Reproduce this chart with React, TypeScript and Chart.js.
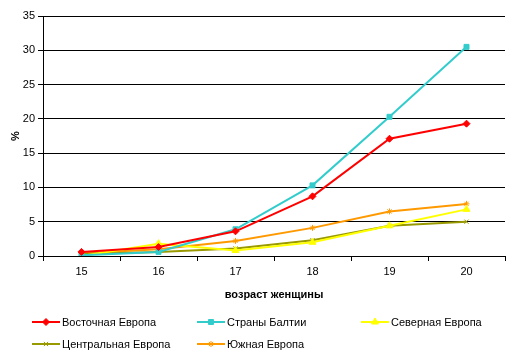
import React, { useEffect, useRef } from "react";
import { Chart, registerables } from "chart.js";
import { drawPoint } from "chart.js/helpers";

Chart.register(...registerables);

const ages = ["15", "16", "17", "18", "19", "20"];
const eastEurope = [0.6, 1.3, 3.6, 8.7, 17.1, 19.3];
const baltic = [0.1, 0.6, 3.9, 10.3, 20.3, 30.5];
const northEurope = [0.0, 1.8, 0.8, 2.0, 4.4, 6.8];
const centralEurope = [0.3, 0.6, 1.1, 2.3, 4.4, 5.0];
const southEurope = [0.4, 1.0, 2.2, 4.1, 6.5, 7.6];
const seriesNames = [
  "Восточная Европа",
  "Страны Балтии",
  "Северная Европа",
  "Центральная Европа",
  "Южная Европа",
];
const yTicks = [0, 5, 10, 15, 20, 25, 30, 35];

const FONT = "'Liberation Sans', Arial, sans-serif";

const legendPlugin = {
  id: "excelLegend",
  afterDraw(chart: any) {
    const ctx = chart.ctx;
    const cols = [32, 197, 361];
    const rows = [322, 344];
    ctx.save();
    chart.data.datasets.forEach((ds: any, i: number) => {
      const x = cols[i % 3];
      const y = rows[Math.floor(i / 3)];
      ctx.strokeStyle = ds.borderColor;
      ctx.lineWidth = 2;
      ctx.beginPath();
      ctx.moveTo(x, y);
      ctx.lineTo(x + 28, y);
      ctx.stroke();
      ctx.fillStyle = ds.pointBackgroundColor;
      ctx.strokeStyle = ds.pointBorderColor;
      ctx.lineWidth = ds.pointBorderWidth;
      drawPoint(ctx, { pointStyle: ds.pointStyle, radius: ds.pointRadius, rotation: 0, borderWidth: ds.pointBorderWidth }, x + 14, y);
      ctx.fillStyle = "#000";
      ctx.font = `11px ${FONT}`;
      ctx.textBaseline = "middle";
      ctx.textAlign = "left";
      ctx.fillText(ds.label, x + 30, y + 0.5);
    });
    ctx.restore();
  },
};

export default function App() {
  const ref = useRef<HTMLCanvasElement>(null);
  useEffect(() => {
    const colors = ["#FF0000", "#33CCCC", "#FFFF00", "#999900", "#FF9900"];
    const styles = ["rectRot", "rect", "triangle", "crossRot", "star"];
    const radii = [3.5, 3.5, 4, 3, 3];
    const borders = [1, 1, 1, 1, 1];
    const values = [eastEurope, baltic, northEurope, centralEurope, southEurope];
    const chart = new Chart(ref.current!, {
      type: "line",
      data: {
        labels: ages,
        datasets: values.map((v, i) => ({
          label: seriesNames[i],
          data: v,
          borderColor: colors[i],
          backgroundColor: colors[i],
          borderWidth: 2,
          pointStyle: styles[i] as any,
          pointRadius: radii[i],
          pointBackgroundColor: colors[i],
          pointBorderColor: colors[i],
          pointBorderWidth: borders[i],
          tension: 0,
        })),
      },
      options: {
        animation: false,
        responsive: false,
        layout: { padding: { top: 16, right: 9, bottom: 58, left: 0 } },
        plugins: { legend: { display: false }, tooltip: { enabled: false } },
        scales: {
          x: {
            offset: true,
            grid: {
              offset: true,
              drawOnChartArea: false,
              color: "#000",
              tickLength: 5,
            },
            border: { color: "#000", width: 1 },
            ticks: { color: "#000", font: { family: FONT, size: 11 }, padding: 4, maxRotation: 0 },
            title: {
              display: true,
              text: "возраст женщины",
              color: "#000",
              font: { family: FONT, size: 11, weight: "bold" },
            },
            afterFit: (s: any) => {
              s.height = 50;
            },
          },
          y: {
            min: 0,
            max: 35,
            afterBuildTicks: (s: any) => {
              s.ticks = yTicks.map((v) => ({ value: v }));
            },
            grid: { color: "#000", tickLength: 5 },
            border: { color: "#000", width: 1 },
            ticks: { color: "#000", font: { family: FONT, size: 11 }, padding: 3 },
            title: {
              display: true,
              text: "%",
              color: "#000",
              padding: { top: 9, bottom: 4 },
              font: { family: FONT, size: 11, weight: "bold" },
            },
            afterFit: (s: any) => {
              s.width = 43;
            },
          },
        },
      },
      plugins: [legendPlugin],
    });
    return () => chart.destroy();
  }, []);
  return (
    <div style={{ position: "fixed", left: 0, top: 0, width: 514, height: 364, background: "#fff" }}>
      <canvas ref={ref} width={514} height={364} style={{ width: 514, height: 364 }} />
    </div>
  );
}
